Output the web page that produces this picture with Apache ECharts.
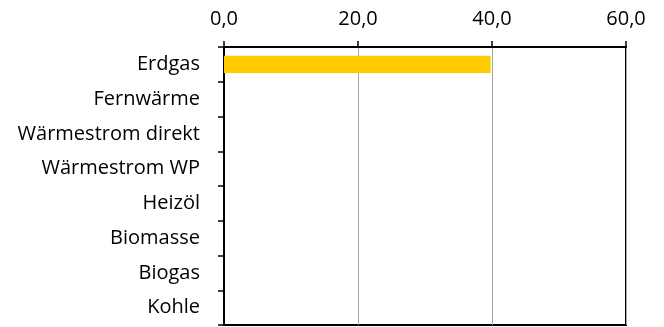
<!DOCTYPE html>
<html>
<head>
<meta charset="utf-8">
<script src="https://cdn.jsdelivr.net/npm/echarts@6/dist/echarts.min.js"></script>
<style>html,body{margin:0;padding:0;background:#fff}#c{width:664px;height:327px}</style>
</head>
<body>
<div id="c"></div>
<script>
const categories = ['Erdgas','Fernwärme','Wärmestrom direkt','Wärmestrom WP','Heizöl','Biomasse','Biogas','Kohle'];
const values = [39.8, 0, 0, 0, 0, 0, 0, 0];
const xTicks = { min: 0, max: 60, interval: 20 };
const FONT = '"Open Sans", sans-serif';

const chart = echarts.init(document.getElementById('c'), null, { renderer: 'canvas' });
chart.setOption({
  animation: false,
  grid: { left: 224, right: 38, top: 47, bottom: 2, show: true, borderColor: '#000', borderWidth: 2, backgroundColor: 'transparent' },
  xAxis: {
    type: 'value', position: 'top', min: xTicks.min, max: xTicks.max, interval: xTicks.interval,
    axisLine: { show: true, lineStyle: { color: '#000', width: 2 } },
    axisTick: { show: true, length: 6, lineStyle: { color: '#000', width: 1.5 } },
    splitLine: { show: true, lineStyle: { color: '#a6a6a6', width: 1 } },
    axisLabel: { fontFamily: FONT, fontSize: 20, color: '#000', margin: 18,
      formatter: v => v.toFixed(1).replace('.', ',') }
  },
  yAxis: {
    type: 'category', data: categories, inverse: true,
    axisLine: { show: true, lineStyle: { color: '#000', width: 2 } },
    axisTick: { show: true, length: 6, lineStyle: { color: '#000', width: 1.5 } },
    axisLabel: { fontFamily: FONT, fontSize: 20, color: '#000', margin: 24 }
  },
  series: [{
    type: 'bar', data: values, barCategoryGap: '50%',
    itemStyle: { color: '#ffcc00' }
  }]
});
</script>
</body>
</html>
